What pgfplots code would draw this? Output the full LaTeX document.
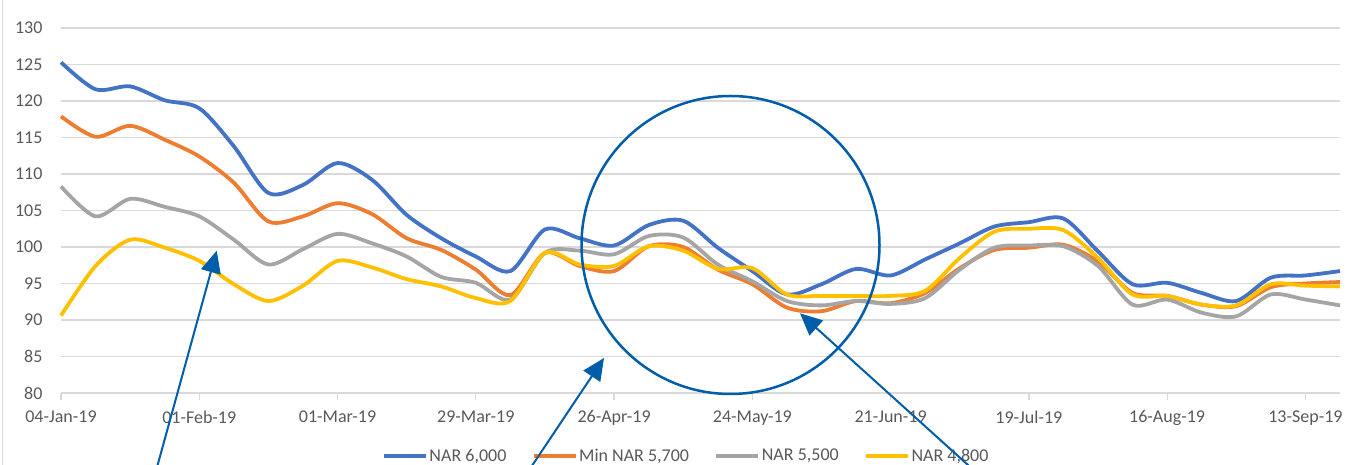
\documentclass[border=0pt]{standalone}
\usepackage{fontspec}
\setmainfont{Carlito}
\usepackage{pgfplots}
\pgfplotsset{compat=1.18}
\usetikzlibrary{arrows.meta}
\definecolor{cblue}{HTML}{4472C4}
\definecolor{corange}{HTML}{ED7D31}
\definecolor{cgray}{HTML}{A5A5A5}
\definecolor{cyellow}{HTML}{FFC000}
\definecolor{gridgray}{HTML}{D9D9D9}
\definecolor{textgray}{HTML}{595959}
\definecolor{annot}{HTML}{005DAA}
\pgfplotstableread{
i blue orange gray yellow
0 125.3 117.9 108.3 90.6
1 121.6 115.1 104.2 97.4
2 122.0 116.6 106.6 101.0
3 120.1 114.7 105.5 99.9
4 119.0 112.4 104.2 98.1
5 113.8 108.8 101.0 94.9
6 107.4 103.5 97.6 92.6
7 108.5 104.2 99.7 94.7
8 111.5 106.0 101.8 98.1
9 109.2 104.5 100.5 97.2
10 104.4 101.2 98.7 95.6
11 101.2 99.6 95.9 94.6
12 98.7 96.9 95.1 93.0
13 96.7 93.4 92.8 92.6
14 102.4 99.2 99.2 99.2
15 101.2 97.4 99.5 97.6
16 100.2 96.7 99.0 97.4
17 103.0 100.1 101.5 100.1
18 103.6 100.0 101.3 99.5
19 99.9 96.9 97.6 97.0
20 96.7 94.9 95.3 97.1
21 93.5 91.7 92.6 93.5
22 94.9 91.2 92.0 93.3
23 97.0 92.6 92.6 93.3
24 96.1 92.3 92.2 93.3
25 98.3 93.7 93.0 94.0
26 100.5 97.1 96.9 98.5
27 102.8 99.6 99.9 102.1
28 103.4 99.9 100.2 102.5
29 103.9 100.3 100.1 102.3
30 99.4 98.0 97.4 98.5
31 94.9 93.7 92.1 93.5
32 95.1 93.3 92.8 93.3
33 93.7 92.1 91.0 92.1
34 92.6 91.9 90.5 92.0
35 95.8 94.5 93.5 94.9
36 96.1 95.0 92.8 94.7
37 96.7 95.2 92.0 94.6
}\datatable
\begin{document}
\begin{tikzpicture}[x=1pt,y=1pt]
\path[use as bounding box] (0,0) rectangle (1358,465);
\begin{pgfinterruptboundingbox}
\draw[gridgray, line width=1pt] (2.7,0) -- (2.7,465);
\begin{axis}[
  at={(61pt,72pt)}, anchor=south west,
  scale only axis, width=1279pt, height=365pt,
  xmin=0, xmax=37, ymin=80, ymax=130,
  ytick={80,85,...,130},
  xtick={0,4,...,36},
  xticklabels={04-Jan-19,01-Feb-19,01-Mar-19,29-Mar-19,26-Apr-19,24-May-19,21-Jun-19,19-Jul-19,16-Aug-19,13-Sep-19},
  axis lines*=left,
  y axis line style={draw=none},
  x axis line style={gridgray, line width=1.3pt, -},
  ymajorgrids, grid style={gridgray, line width=1.3pt},
  ytick style={draw=none},
  xtick style={gridgray, line width=1.3pt},
  tick align=outside, major tick length=7pt,
  tick label style={font=\fontsize{18}{20}\selectfont, text=textgray},
  /pgf/number format/assume math mode=true,
  yticklabel style={xshift=-8pt},
  xticklabel style={yshift=-7pt},
  clip=false,
  legend columns=4,
  legend style={at={(0.4887,-0.172)}, anchor=center, draw=none, fill=none,
    font=\fontsize{18}{20}\selectfont, text=textgray,
    nodes={inner sep=1.5pt},
    /tikz/every even column/.append style={column sep=24pt}},
  legend image code/.code={\draw[#1, line width=3.8pt] (0pt,0pt) -- (42pt,0pt);},
  every axis plot/.append style={line width=3.8pt, smooth, no markers},
]
\addplot[cblue] table[x=i, y=blue] {\datatable};
\addlegendentry{NAR 6,000}
\addplot[corange] table[x=i, y=orange] {\datatable};
\addlegendentry{Min NAR 5,700}
\addplot[cgray] table[x=i, y=gray] {\datatable};
\addlegendentry{NAR 5,500}
\addplot[cyellow] table[x=i, y=yellow] {\datatable};
\addlegendentry{NAR 4,800}
\end{axis}
\draw[annot, line width=2.5pt] (730.5,220) circle (149);
\draw[annot, line width=2pt, -{Triangle[length=22pt,width=20pt]}] (153.5,-15) -- (216.7,214.3);
\draw[annot, line width=2pt, -{Triangle[length=22pt,width=20pt]}] (522.5,-15) -- (604,107);
\draw[annot, line width=2pt, -{Triangle[length=22pt,width=20pt]}] (984.6,-15) -- (800,151.7);
\end{pgfinterruptboundingbox}
\end{tikzpicture}
\end{document}
